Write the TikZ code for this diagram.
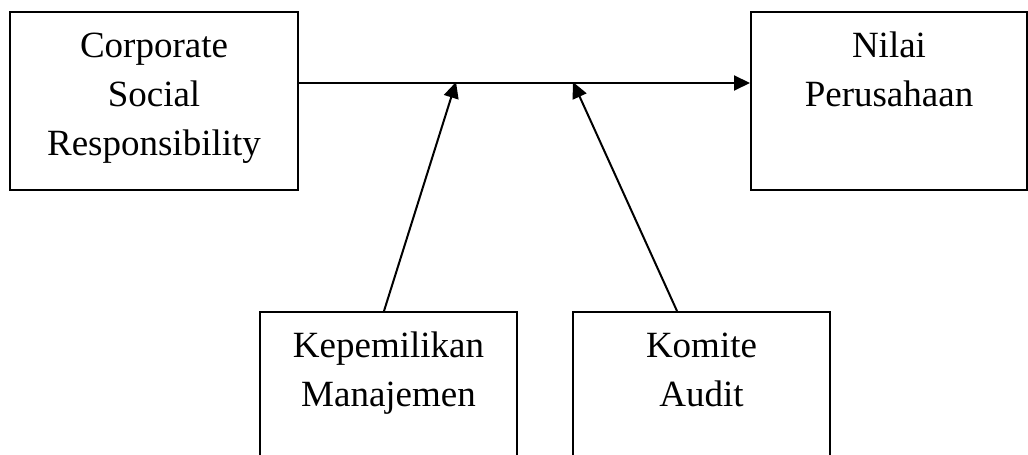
\documentclass[tikz,border=0pt]{standalone}
\usepackage{fontspec}
\setmainfont{Liberation Serif}
\usetikzlibrary{arrows.meta}
% text block hung from the top edge of a box
\newcommand{\boxtext}[3]{\parbox[t][#2][t]{#1}{\centering\rule{0pt}{13.6pt}#3}}

\begin{document}
\begin{tikzpicture}[x=0.3pt, y=-0.3pt,
  varbox/.style={draw, line width=0.6pt, inner sep=0pt, anchor=north west,
    font=\fontsize{11.1}{14.7}\selectfont},
  arr/.style={-{Triangle[length=4.8pt,width=4.5pt]}, line width=0.6pt}]

\useasboundingbox (0,0) rectangle (1028,455);
\clip (0,0) rectangle (1028,455);

% === TOP: independent and dependent variable ===
\node[varbox] (csr) at (9,11)
  {\boxtext{86.4pt}{53.4pt}{Corporate\\Social\\Responsibility}};
\node[varbox] (nilai) at (750,11)
  {\boxtext{82.8pt}{53.4pt}{Nilai\\Perusahaan}};

% === BOTTOM: moderating variables ===
\node[varbox] (kep) at (259,311)
  {\boxtext{77.1pt}{53.4pt}{Kepemilikan\\Manajemen}};
\node[varbox] (kom) at (572,311)
  {\boxtext{77.1pt}{53.4pt}{Komite\\Audit}};

% === Arrows ===
\coordinate (m1) at (456,82);
\coordinate (m2) at (573,82);

\draw[arr] ([yshift=5.4pt]csr.east) -- ([yshift=5.4pt]nilai.west);
\draw[arr] ([xshift=-1.35pt]kep.north) -- (m1);
\draw[arr] ([xshift=-7.35pt]kom.north) -- (m2);

\end{tikzpicture}
\end{document}
